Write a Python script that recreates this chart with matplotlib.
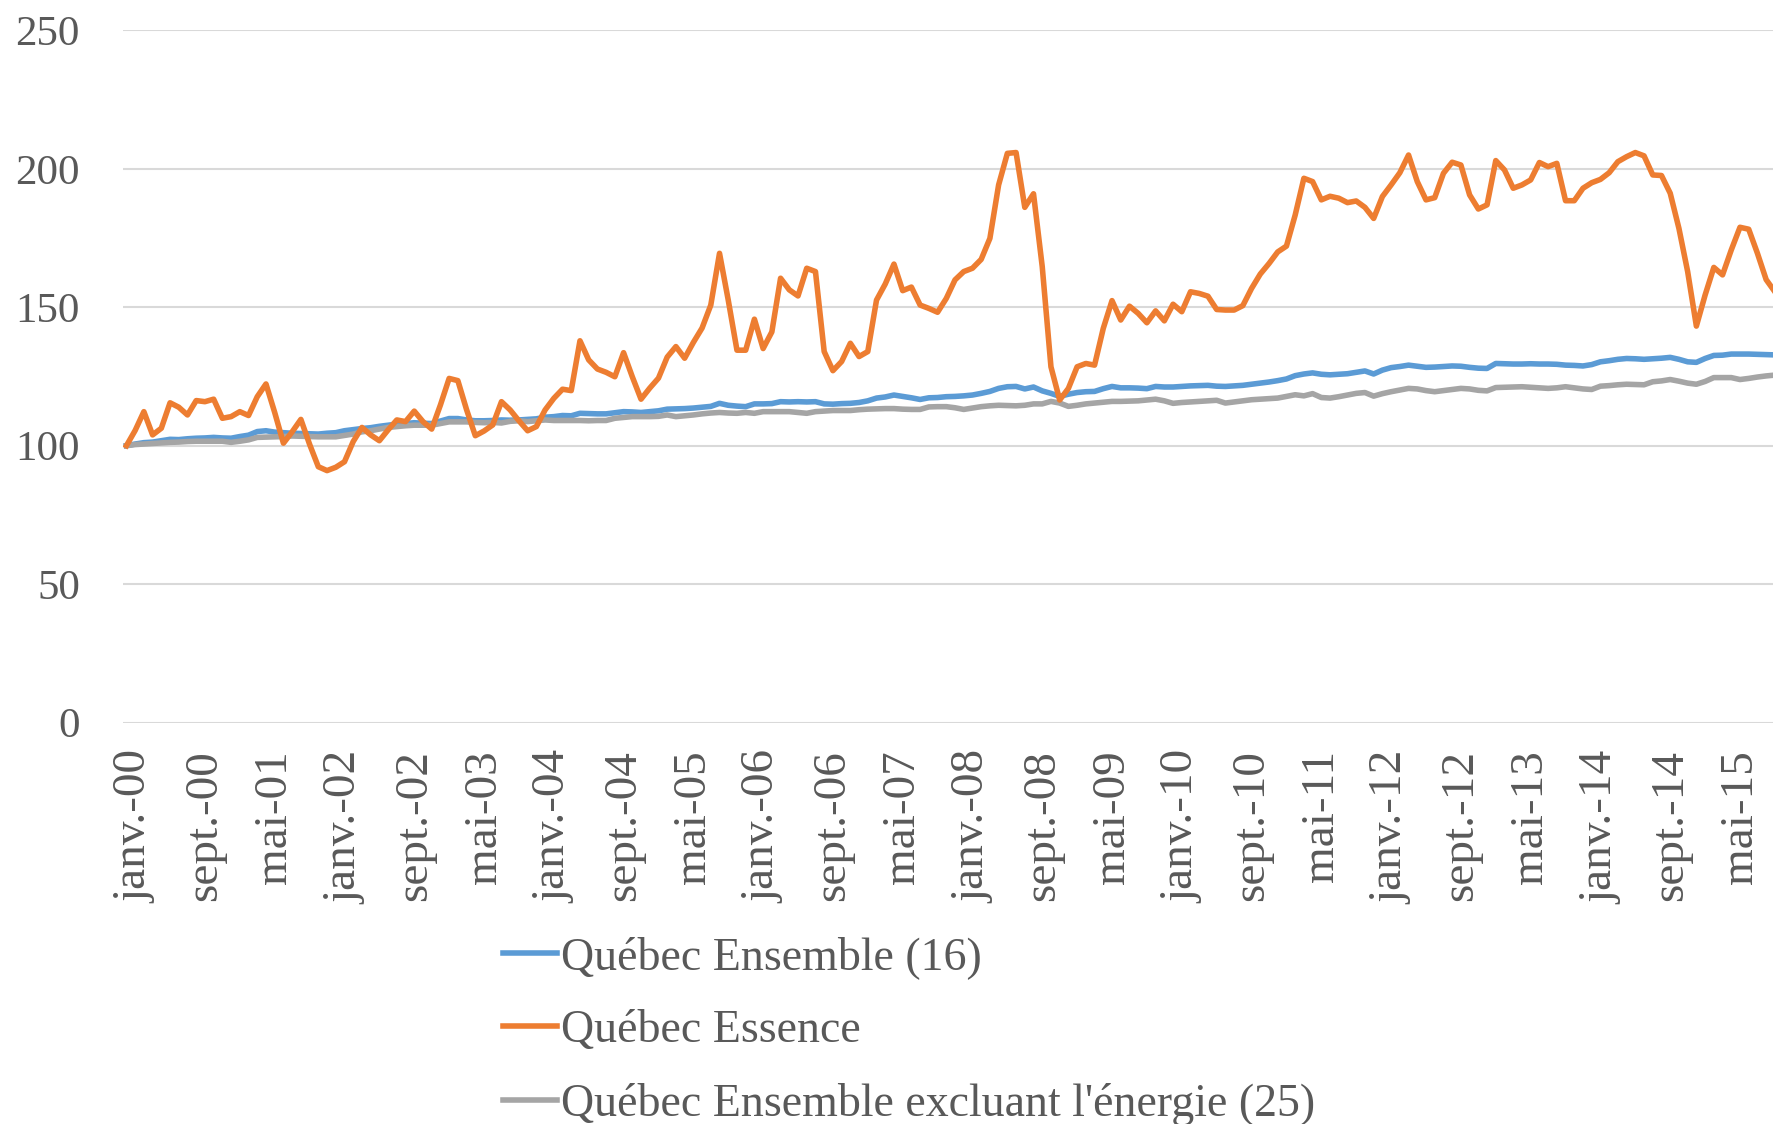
import numpy as np
import matplotlib
matplotlib.use("Agg")
import matplotlib.pyplot as plt
from matplotlib.transforms import ScaledTranslation

plt.rcParams['font.family'] = ['Liberation Serif', 'DejaVu Serif']

# indices mensuels (0 = janvier 2000)
tick_labels = ['janv.-00', 'sept.-00', 'mai-01', 'janv.-02', 'sept.-02', 'mai-03',
               'janv.-04', 'sept.-04', 'mai-05', 'janv.-06', 'sept.-06', 'mai-07',
               'janv.-08', 'sept.-08', 'mai-09', 'janv.-10', 'sept.-10', 'mai-11',
               'janv.-12', 'sept.-12', 'mai-13', 'janv.-14', 'sept.-14', 'mai-15']

ensemble = [100.0, 100.6, 101.1, 101.3, 101.8, 102.3, 102.2, 102.5, 102.7, 102.8,
            103.0, 102.8, 102.7, 103.3, 103.8, 105.1, 105.4, 104.9, 104.7, 104.5,
            104.4, 104.3, 104.2, 104.5, 104.7, 105.4, 105.8, 106.2, 106.5, 107.0,
            107.4, 107.8, 108.0, 108.3, 108.1, 108.0, 108.9, 109.8, 109.8, 109.3,
            109.0, 109.0, 109.1, 109.3, 109.2, 109.3, 109.5, 109.7, 110.3, 110.5,
            110.9, 110.8, 111.7, 111.6, 111.5, 111.5, 111.9, 112.3, 112.2, 112.0,
            112.3, 112.6, 113.2, 113.3, 113.4, 113.6, 113.9, 114.2, 115.3, 114.6,
            114.3, 114.1, 115.1, 115.1, 115.2, 115.9, 115.8, 115.9, 115.8, 115.9,
            115.1, 115.0, 115.2, 115.3, 115.6, 116.2, 117.2, 117.6, 118.3, 117.8,
            117.3, 116.7, 117.3, 117.4, 117.7, 117.8, 118.0, 118.3, 118.9, 119.6,
            120.7, 121.3, 121.4, 120.5, 121.2, 119.8, 118.9, 117.8, 118.6, 119.2,
            119.5, 119.6, 120.6, 121.4, 120.9, 120.9, 120.8, 120.6, 121.4, 121.2,
            121.2, 121.4, 121.6, 121.7, 121.8, 121.5, 121.4, 121.6, 121.8, 122.2,
            122.6, 123.0, 123.5, 124.1, 125.3, 125.9, 126.3, 125.8, 125.6, 125.8,
            126.0, 126.5, 127.0, 125.9, 127.3, 128.2, 128.6, 129.1, 128.7, 128.3,
            128.4, 128.6, 128.8, 128.7, 128.3, 128.0, 127.9, 129.7, 129.6, 129.5,
            129.5, 129.6, 129.5, 129.5, 129.4, 129.1, 129.0, 128.8, 129.3, 130.3,
            130.7, 131.2, 131.5, 131.4, 131.2, 131.4, 131.6, 131.9, 131.2, 130.3,
            130.1, 131.5, 132.6, 132.7, 133.1, 133.1, 133.1, 133.0, 132.9, 132.8]

essence = [100.0, 105.5, 112.3, 103.9, 106.3, 115.5, 113.9, 111.1, 116.3, 115.9,
           116.8, 109.9, 110.5, 112.3, 110.9, 117.7, 122.3, 112.0, 100.9, 105.0,
           109.5, 100.5, 92.4, 91.0, 92.2, 94.2, 101.5, 106.6, 103.9, 101.8,
           105.7, 109.3, 108.7, 112.5, 108.7, 106.0, 114.7, 124.3, 123.5, 113.0,
           103.6, 105.3, 107.5, 115.9, 112.9, 109.0, 105.4, 106.9, 112.9, 117.1,
           120.4, 119.9, 137.9, 131.0, 127.7, 126.5, 124.9, 133.6, 124.9, 116.8,
           120.8, 124.4, 132.0, 135.8, 131.6, 137.3, 142.5, 150.8, 169.5, 152.6,
           134.5, 134.5, 145.7, 135.1, 141.1, 160.5, 156.3, 154.1, 164.1, 162.9,
           134.0, 127.1, 130.4, 137.0, 132.2, 134.0, 152.6, 158.4, 165.6, 156.0,
           157.3, 150.8, 149.6, 148.2, 153.2, 159.9, 162.9, 164.1, 167.3, 174.9,
           194.2, 205.6, 205.9, 186.1, 191.0, 164.7, 128.5, 116.5, 120.7, 128.5,
           129.7, 129.1, 142.4, 152.4, 145.4, 150.4, 147.8, 144.4, 148.7, 145.1,
           151.1, 148.4, 155.6, 155.0, 154.0, 149.2, 149.0, 149.0, 150.6, 156.8,
           162.0, 165.8, 170.0, 172.1, 183.3, 196.6, 195.4, 188.8, 190.1, 189.4,
           187.8, 188.4, 186.1, 182.1, 190.0, 194.2, 198.6, 205.0, 195.4, 188.8,
           189.6, 198.4, 202.4, 201.4, 190.6, 185.5, 187.0, 203.0, 199.6, 193.0,
           194.2, 196.0, 202.3, 200.8, 202.0, 188.5, 188.5, 193.0, 195.0, 196.2,
           198.6, 202.6, 204.4, 205.9, 204.7, 197.8, 197.6, 191.2, 178.5, 162.9,
           143.2, 154.4, 164.4, 161.7, 170.7, 178.9, 178.2, 169.5, 160.0, 155.6]

hors_energie = [100.0, 100.4, 100.6, 100.8, 101.0, 101.2, 101.3, 101.5, 101.6, 101.6,
                101.6, 101.6, 101.2, 101.6, 102.1, 103.0, 103.1, 103.2, 103.3, 103.5,
                103.4, 103.3, 103.2, 103.2, 103.2, 103.7, 104.2, 105.0, 105.4, 106.0,
                106.6, 106.9, 107.2, 107.4, 107.4, 107.4, 108.0, 108.6, 108.6, 108.6,
                108.4, 108.3, 108.4, 108.2, 108.8, 109.0, 108.7, 109.0, 109.3, 109.1,
                109.1, 109.1, 109.1, 109.0, 109.1, 109.1, 109.9, 110.2, 110.5, 110.5,
                110.5, 110.6, 111.1, 110.5, 110.8, 111.1, 111.5, 111.8, 112.0, 111.8,
                111.7, 112.0, 111.7, 112.3, 112.3, 112.3, 112.3, 112.0, 111.7, 112.3,
                112.5, 112.7, 112.7, 112.7, 113.0, 113.2, 113.3, 113.4, 113.4, 113.2,
                113.1, 113.1, 114.0, 114.1, 114.1, 113.7, 113.1, 113.6, 114.1, 114.4,
                114.6, 114.5, 114.4, 114.6, 115.1, 115.1, 116.0, 115.4, 114.2, 114.6,
                115.1, 115.4, 115.7, 116.0, 116.0, 116.1, 116.2, 116.5, 116.8, 116.2,
                115.3, 115.6, 115.8, 116.0, 116.2, 116.4, 115.4, 115.8, 116.2, 116.6,
                116.8, 117.0, 117.2, 117.8, 118.4, 118.0, 118.8, 117.4, 117.2, 117.7,
                118.3, 118.9, 119.2, 117.9, 118.8, 119.5, 120.1, 120.7, 120.5, 119.9,
                119.5, 119.9, 120.3, 120.7, 120.5, 120.0, 119.8, 121.0, 121.1, 121.2,
                121.3, 121.1, 120.9, 120.7, 120.9, 121.3, 120.9, 120.5, 120.3, 121.5,
                121.7, 122.0, 122.2, 122.1, 122.0, 123.1, 123.4, 123.9, 123.3, 122.6,
                122.2, 123.2, 124.6, 124.6, 124.6, 123.9, 124.3, 124.8, 125.2, 125.5]

mois = np.arange(len(essence))

fig = plt.figure(figsize=(17.74, 11.24), dpi=100)
ax = fig.add_axes([0.0693, 0.3572, 0.9307, 0.6157])

lw = 4.0
l1, = ax.plot(mois, ensemble, color='#5B9BD5', lw=lw, zorder=3, solid_joinstyle='round')
l3, = ax.plot(mois, hors_energie, color='#A5A5A5', lw=lw, zorder=4, solid_joinstyle='round')
l2, = ax.plot(mois, essence, color='#ED7D31', lw=lw, zorder=5, solid_joinstyle='round')

ax.set_ylim(0, 250)
ax.set_xlim(-0.4, 188.9)
ax.set_yticks(range(0, 251, 50))
ax.set_xticks(mois[::8][:len(tick_labels)])
ax.set_xticklabels(tick_labels, rotation=90)
ax.grid(axis='y', color='#D9D9D9', lw=1.5)
ax.set_axisbelow(True)
for s in ax.spines.values():
    s.set_visible(False)
ax.tick_params(axis='y', length=0, labelsize=31, colors='#595959', pad=31)
ax.tick_params(axis='x', length=0, labelsize=34, colors='#595959', pad=20)
shift = ScaledTranslation(9 / 100, 0, fig.dpi_scale_trans)
for lab in ax.get_xticklabels():
    lab.set_transform(lab.get_transform() + shift)

fig.legend([l1, l2, l3],
           ['Québec Ensemble (16)', 'Québec Essence', "Québec Ensemble excluant l'énergie (25)"],
           loc='upper left', bbox_to_anchor=(0.2838, 0.167), frameon=False,
           fontsize=33, handlelength=1.16, handletextpad=0.1, labelspacing=0.67,
           labelcolor='#595959', borderpad=0, borderaxespad=0)

fig.savefig('out.png', dpi=100)
